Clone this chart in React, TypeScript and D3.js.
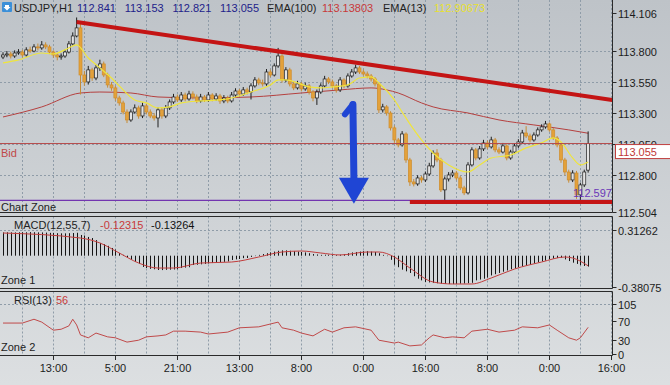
import React, { useEffect, useRef } from 'react';
import * as d3 from 'd3';

// USDJPY H1 candles, oldest first
const opens = [
  113.752, 113.768, 113.776, 113.760, 113.784, 113.792, 113.768, 113.809, 113.800, 113.833,
  113.825, 113.849, 113.833, 113.792, 113.768, 113.752, 113.760, 113.792, 113.857, 113.921,
  113.986, 113.607, 113.551, 113.648, 113.583, 113.664, 113.696, 113.607, 113.527, 113.503,
  113.422, 113.382, 113.309, 113.245, 113.309, 113.342, 113.277, 113.358, 113.309, 113.277,
  113.261, 113.326, 113.277, 113.342, 113.390, 113.430, 113.406, 113.446, 113.414, 113.454,
  113.430, 113.398, 113.430, 113.406, 113.446, 113.414, 113.438, 113.398, 113.422, 113.398,
  113.446, 113.478, 113.454, 113.487, 113.470, 113.519, 113.567, 113.543, 113.535, 113.631,
  113.607, 113.680, 113.760, 113.567, 113.648, 113.535, 113.503, 113.535, 113.495, 113.519,
  113.470, 113.422, 113.470, 113.519, 113.575, 113.551, 113.519, 113.487, 113.567, 113.519,
  113.599, 113.631, 113.664, 113.631, 113.615, 113.599, 113.575, 113.535, 113.326, 113.350,
  113.301, 113.181, 113.084, 113.044, 113.132, 112.923, 112.746, 112.730, 112.778, 112.762,
  112.810, 112.875, 112.979, 112.923, 112.682, 112.770, 112.802, 112.818, 112.778, 112.698,
  112.658, 112.883, 113.004, 112.939, 113.012, 113.060, 113.028, 113.084, 113.004, 112.987,
  113.036, 112.939, 112.987, 113.036, 113.068, 113.140, 113.116, 113.084, 113.124, 113.165,
  113.189, 113.213, 113.165, 113.100, 113.044, 112.923, 112.826, 112.762, 112.818, 112.642,
  112.722, 112.841,
];
const highs = [
  113.790, 113.800, 113.795, 113.805, 113.815, 113.810, 113.830, 113.835, 113.855, 113.860,
  113.880, 113.870, 113.850, 113.805, 113.785, 113.780, 113.810, 113.880, 113.950, 114.070,
  114.020, 113.640, 113.680, 113.665, 113.690, 113.730, 113.715, 113.625, 113.550, 113.520,
  113.440, 113.400, 113.330, 113.330, 113.370, 113.360, 113.385, 113.375, 113.330, 113.300,
  113.345, 113.345, 113.365, 113.410, 113.455, 113.450, 113.470, 113.465, 113.480, 113.475,
  113.450, 113.455, 113.445, 113.470, 113.460, 113.460, 113.455, 113.445, 113.440, 113.470,
  113.500, 113.495, 113.510, 113.505, 113.540, 113.590, 113.585, 113.570, 113.655, 113.650,
  113.700, 113.825, 113.775, 113.670, 113.665, 113.555, 113.560, 113.550, 113.545, 113.535,
  113.485, 113.490, 113.540, 113.600, 113.590, 113.570, 113.535, 113.590, 113.580, 113.620,
  113.655, 113.690, 113.680, 113.650, 113.635, 113.615, 113.590, 113.550, 113.375, 113.365,
  113.315, 113.200, 113.100, 113.155, 113.145, 112.940, 112.770, 112.800, 112.795, 112.830,
  112.900, 113.000, 113.010, 112.940, 112.790, 112.825, 112.840, 112.835, 112.795, 112.715,
  112.905, 113.025, 113.020, 113.035, 113.085, 113.080, 113.110, 113.100, 113.025, 113.060,
  113.050, 113.005, 113.055, 113.090, 113.165, 113.195, 113.135, 113.145, 113.185, 113.210,
  113.237, 113.225, 113.180, 113.115, 113.060, 112.940, 112.845, 112.840, 112.835, 112.740,
  112.845, 113.153,
];
const lows = [
  113.735, 113.750, 113.740, 113.745, 113.770, 113.750, 113.755, 113.785, 113.790, 113.805,
  113.810, 113.815, 113.775, 113.745, 113.725, 113.730, 113.745, 113.780, 113.845, 113.910,
  113.450, 113.520, 113.530, 113.560, 113.565, 113.640, 113.590, 113.505, 113.480, 113.400,
  113.360, 113.290, 113.220, 113.230, 113.295, 113.255, 113.260, 113.290, 113.260, 113.240,
  113.185, 113.255, 113.260, 113.325, 113.375, 113.390, 113.390, 113.395, 113.400, 113.410,
  113.380, 113.385, 113.390, 113.390, 113.395, 113.400, 113.375, 113.380, 113.380, 113.385,
  113.430, 113.435, 113.440, 113.450, 113.410, 113.505, 113.525, 113.515, 113.520, 113.590,
  113.595, 113.665, 113.545, 113.550, 113.515, 113.485, 113.490, 113.475, 113.480, 113.450,
  113.395, 113.366, 113.455, 113.505, 113.535, 113.500, 113.465, 113.470, 113.500, 113.505,
  113.585, 113.615, 113.615, 113.600, 113.580, 113.555, 113.515, 113.300, 113.305, 113.280,
  113.160, 113.060, 113.025, 113.030, 112.900, 112.714, 112.710, 112.715, 112.740, 112.745,
  112.795, 112.860, 112.905, 112.665, 112.600, 112.750, 112.785, 112.760, 112.680, 112.640,
  112.645, 112.870, 112.920, 112.925, 112.995, 113.010, 113.015, 112.985, 112.970, 112.975,
  112.920, 112.925, 112.970, 113.020, 113.055, 113.100, 113.065, 113.070, 113.110, 113.150,
  113.175, 113.150, 113.085, 113.025, 112.900, 112.800, 112.740, 112.745, 112.610, 112.597,
  112.705, 112.821,
];
const closes = [
  113.768, 113.776, 113.760, 113.784, 113.792, 113.768, 113.809, 113.800, 113.833, 113.825,
  113.849, 113.833, 113.792, 113.768, 113.752, 113.760, 113.792, 113.857, 113.921, 113.986,
  113.607, 113.551, 113.648, 113.583, 113.664, 113.696, 113.607, 113.527, 113.503, 113.422,
  113.382, 113.309, 113.245, 113.309, 113.342, 113.277, 113.358, 113.309, 113.277, 113.261,
  113.326, 113.277, 113.342, 113.390, 113.430, 113.406, 113.446, 113.414, 113.454, 113.430,
  113.398, 113.430, 113.406, 113.446, 113.414, 113.438, 113.398, 113.422, 113.398, 113.446,
  113.478, 113.454, 113.487, 113.470, 113.519, 113.567, 113.543, 113.535, 113.631, 113.607,
  113.680, 113.760, 113.567, 113.648, 113.535, 113.503, 113.535, 113.495, 113.519, 113.470,
  113.422, 113.470, 113.519, 113.575, 113.551, 113.519, 113.487, 113.567, 113.519, 113.599,
  113.631, 113.664, 113.631, 113.615, 113.599, 113.575, 113.535, 113.326, 113.350, 113.301,
  113.181, 113.084, 113.044, 113.132, 112.923, 112.746, 112.730, 112.778, 112.762, 112.810,
  112.875, 112.979, 112.923, 112.682, 112.770, 112.802, 112.818, 112.778, 112.698, 112.658,
  112.883, 113.004, 112.939, 113.012, 113.060, 113.028, 113.084, 113.004, 112.987, 113.036,
  112.939, 112.987, 113.036, 113.068, 113.140, 113.116, 113.084, 113.124, 113.165, 113.189,
  113.213, 113.165, 113.100, 113.044, 112.923, 112.826, 112.762, 112.818, 112.642, 112.722,
  112.826, 113.055,
];

// [bar index, value]
const ema13 = [
  [0, 113.704], [4, 113.728], [10, 113.784], [13, 113.776], [16, 113.809], [19, 113.849],
  [22, 113.744], [25, 113.664], [28, 113.583], [30, 113.519], [34, 113.406], [37, 113.382],
  [40, 113.342], [43, 113.35], [46, 113.382], [51, 113.398], [56, 113.406], [60, 113.43],
  [64, 113.47], [69, 113.527], [71, 113.567], [73, 113.567], [76, 113.543], [79, 113.511],
  [82, 113.503], [85, 113.511], [89, 113.527], [92, 113.583], [95, 113.591], [97, 113.543],
  [101, 113.406], [103, 113.309], [105, 113.213], [108, 113.084], [111, 112.979], [115, 112.883],
  [120, 112.826], [123, 112.883], [126, 112.939], [131, 112.963], [135, 113.02], [139, 113.06],
  [142, 113.1], [144, 113.068], [147, 112.939], [149, 112.883], [151, 112.90673],
];
const ema100 = [
  [0, 113.269], [10, 113.35], [20, 113.462], [25, 113.47], [33, 113.462], [40, 113.43],
  [51, 113.422], [64, 113.43], [77, 113.462], [87, 113.487], [95, 113.503], [99, 113.487],
  [102, 113.462], [108, 113.382], [111, 113.35], [120, 113.301], [128, 113.245], [137, 113.205],
  [146, 113.165], [151, 113.13803],
];

const macdHist = [
  0.283, 0.285, 0.284, 0.283, 0.285, 0.286, 0.285, 0.287, 0.286, 0.284,
  0.283, 0.281, 0.278, 0.276, 0.274, 0.272, 0.272, 0.274, 0.276, 0.279,
  0.252, 0.245, 0.228, 0.215, 0.19, 0.155, 0.14, 0.12, 0.094, 0.075,
  0.033, 0.01, -0.02, -0.05, -0.077, -0.1, -0.137, -0.15, -0.16, -0.165,
  -0.174, -0.175, -0.172, -0.17, -0.168, -0.165, -0.15, -0.145, -0.14, -0.113,
  -0.11, -0.105, -0.1, -0.095, -0.089, -0.085, -0.08, -0.075, -0.07, -0.052,
  -0.045, -0.04, -0.03, -0.028, -0.015, -0.005, 0.01, 0.02, 0.03, 0.04,
  0.05, 0.06, 0.065, 0.065, 0.06, 0.055, 0.05, 0.045, 0.04, 0.03,
  0.02, 0.015, 0.01, 0.012, 0.012, 0.01, 0.008, 0.012, 0.02, 0.03,
  0.04, 0.045, 0.05, 0.055, 0.055, 0.05, 0.045, 0.03, 0.01, -0.005,
  -0.05, -0.11, -0.14, -0.17, -0.19, -0.21, -0.25, -0.28, -0.3, -0.32,
  -0.325, -0.33, -0.335, -0.34, -0.343, -0.345, -0.345, -0.343, -0.34, -0.338,
  -0.335, -0.33, -0.3, -0.29, -0.28, -0.265, -0.24, -0.225, -0.21, -0.195,
  -0.18, -0.165, -0.155, -0.14, -0.13, -0.12, -0.11, -0.095, -0.08, -0.07,
  -0.06, -0.045, -0.035, -0.028, -0.025, -0.045, -0.065, -0.085, -0.1, -0.115,
  -0.125, -0.13264,
];
const macdSignal = [
  [0, 0.276], [20, 0.215], [25, 0.155], [30, 0.033], [35, -0.089], [40, -0.15], [44, -0.15],
  [51, -0.089], [59, -0.077], [66, -0.016], [72, 0.045], [77, 0.057], [82, 0.033], [87, 0.009],
  [94, 0.045], [97, 0.045], [101, -0.016], [105, -0.15], [111, -0.32], [116, -0.344],
  [121, -0.344], [126, -0.271], [132, -0.162], [139, -0.077], [145, -0.016], [147, -0.028],
  [151, -0.12315],
];

const rsi = [
  [0, 65], [5, 65], [8, 73], [10, 67], [13, 50], [15, 52], [17, 59], [18, 73], [19, 61],
  [20, 40], [22, 34], [24, 44], [27, 36], [29, 34], [32, 25], [35, 29], [37, 36], [40, 38],
  [42, 40], [44, 48], [47, 48], [51, 46], [53, 42], [58, 46], [61, 55], [66, 57], [69, 63],
  [71, 67], [72, 55], [75, 50], [77, 44], [80, 38], [83, 52], [85, 46], [88, 55], [91, 57],
  [95, 50], [97, 29], [101, 23], [102, 25], [105, 17], [108, 19], [110, 34], [111, 40],
  [114, 34], [116, 36], [119, 34], [121, 48], [125, 52], [128, 46], [132, 50], [134, 57],
  [138, 55], [141, 61], [143, 50], [146, 34], [148, 29], [149, 34], [151, 56],
];

const priceTicks = [114.106, 113.8, 113.55, 113.3, 113.05, 112.8, 112.504];
const macdTicks = [0.31262, -0.38075];
const rsiTicks = [105, 70, 30, 0];
const timeLabels = ['13:00', '5:00', '21:00', '13:00', '8:00', '0:00', '16:00', '8:00', '0:00', '16:00'];

const bid = 113.055;
const lowMark = 112.597;
// drawn objects: [bar index, price]
const trendLine = [[19, 114.033], [157.2, 113.406]];
const supportLine = [[105, 112.585], [157.2, 112.585]];
const arrowBar = 90.3;
const arrowFrom = 113.37;
const arrowTo = 112.57;

const W = 670;
const H = 385;
const R = 612.5;

const App = () => {
  const ref = useRef<SVGSVGElement>(null);

  useEffect(() => {
    const svg = d3.select(ref.current);
    svg.selectAll('*').remove();
    const font = "'Liberation Sans', Arial, sans-serif";

    const defs = svg.append('defs');
    const grad = defs.append('linearGradient').attr('id', 'bg').attr('x1', 0).attr('y1', 0).attr('x2', 0).attr('y2', 1);
    grad.append('stop').attr('offset', '0%').attr('stop-color', '#bec3c8');
    grad.append('stop').attr('offset', '100%').attr('stop-color', '#dcdfe1');
    defs.append('clipPath').attr('id', 'clipMain').append('rect').attr('width', R).attr('height', 212);

    svg.append('rect').attr('width', W).attr('height', H).attr('fill', 'url(#bg)');

    const x = d3.scaleLinear().domain([0, 158]).range([3, 3 + 158 * 3.875]);
    const yP = d3.scaleLinear().domain([112.504, 114.106]).range([212, 13]);
    const yM = d3.scaleLinear().domain([-0.38075, 0.31262]).range([287, 230]);
    const yR = d3.scaleLinear().domain([0, 105]).range([354, 304]);

    const panels = [[0, 212.5], [216.5, 288.5], [291.5, 355.5]];

    // grid
    const grid = svg.append('g').attr('stroke', '#8f9ca8').attr('stroke-dasharray', '2,2').attr('stroke-width', 1);
    const gridBars = d3.range(5, 160, 8).filter((i) => x(i) < R - 1);
    panels.forEach(([t, b]) => {
      gridBars.forEach((i) => {
        grid.append('line').attr('x1', Math.round(x(i)) + 0.5).attr('x2', Math.round(x(i)) + 0.5).attr('y1', t).attr('y2', b);
      });
    });
    priceTicks.slice(1, -1).forEach((v) => {
      const y = Math.round(yP(v)) + 0.5;
      grid.append('line').attr('x1', 0).attr('x2', R).attr('y1', y).attr('y2', y);
    });
    grid.append('line').attr('x1', 0).attr('x2', R).attr('y1', Math.round(yM(macdTicks[0])) + 0.5).attr('y2', Math.round(yM(macdTicks[0])) + 0.5);
    grid.append('line').attr('x1', 0).attr('x2', R).attr('y1', Math.round(yR(rsiTicks[0])) + 0.5).attr('y2', Math.round(yR(rsiTicks[0])) + 0.5);

    // main panel
    const main = svg.append('g').attr('clip-path', 'url(#clipMain)');
    const lineP = d3.line<number[]>().x((d) => x(d[0])).y((d) => yP(d[1])).curve(d3.curveMonotoneX);

    main.append('path').attr('d', lineP(ema100 as any)).attr('fill', 'none').attr('stroke', '#b5403f').attr('stroke-width', 1);

    const candles = closes.map((c, i) => ({ i, o: opens[i], h: highs[i], l: lows[i], c }));
    main.selectAll('.wick').data(candles).enter().append('line')
      .attr('x1', (d) => x(d.i)).attr('x2', (d) => x(d.i))
      .attr('y1', (d) => yP(d.h)).attr('y2', (d) => yP(d.l))
      .attr('stroke', (d) => (d.c >= d.o ? '#1e1e1e' : '#c68b35')).attr('stroke-width', 1);
    main.selectAll('.body').data(candles).enter().append('rect')
      .attr('x', (d) => x(d.i) - 1.5).attr('width', 3)
      .attr('y', (d) => yP(Math.max(d.o, d.c)))
      .attr('height', (d) => Math.max(1, Math.abs(yP(d.o) - yP(d.c))))
      .attr('fill', (d) => (d.c >= d.o ? '#e4e4e4' : '#e3a13a'))
      .attr('stroke', (d) => (d.c >= d.o ? '#1e1e1e' : '#cf8c2c')).attr('stroke-width', 0.7);

    main.append('path').attr('d', lineP(ema13 as any)).attr('fill', 'none').attr('stroke', '#efe53c').attr('stroke-width', 1.2);

    // bid and low lines
    main.append('line').attr('x1', 0).attr('x2', R).attr('y1', yP(bid)).attr('y2', yP(bid)).attr('stroke', '#b54848').attr('stroke-width', 1);
    main.append('line').attr('x1', 0).attr('x2', R).attr('y1', yP(lowMark)).attr('y2', yP(lowMark)).attr('stroke', '#7235b0').attr('stroke-width', 1.2);

    const straight = d3.line<number[]>().x((d) => x(d[0])).y((d) => yP(d[1]));
    [trendLine, supportLine].forEach((ln) => {
      main.append('path').attr('d', straight(ln as any)).attr('stroke', '#c41414').attr('stroke-width', 4).attr('fill', 'none');
    });

    // blue arrow
    const ax = x(arrowBar);
    const aTop = yP(arrowFrom);
    const aTip = yP(arrowTo);
    const blue = '#1f45d4';
    main.append('line').attr('x1', ax).attr('x2', ax + 1).attr('y1', aTop).attr('y2', aTip - 24).attr('stroke', blue).attr('stroke-width', 7).attr('stroke-linecap', 'round');
    main.append('line').attr('x1', ax).attr('x2', ax - 8).attr('y1', aTop).attr('y2', aTop + 10).attr('stroke', blue).attr('stroke-width', 6).attr('stroke-linecap', 'round');
    main.append('path').attr('d', `M${ax - 14},${aTip - 26}L${ax + 16},${aTip - 26}L${ax + 1},${aTip}Z`).attr('fill', blue);

    const txt = (g: any, s: string, tx: number, ty: number, color: string, anchor = 'start') =>
      g.append('text').attr('x', tx).attr('y', ty).attr('fill', color).attr('font-family', font)
        .attr('font-size', 11).attr('text-anchor', anchor).text(s);

    txt(main, 'Bid', 1, 157, '#c04848');
    txt(main, 'Chart Zone', 1, 211, '#222');
    txt(svg, lowMark.toFixed(3), 573, yP(lowMark) - 3, '#6a36b8');

    // header
    const n = closes.length - 1;
    svg.append('rect').attr('x', 2).attr('y', 2).attr('width', 10).attr('height', 10).attr('fill', '#3b8fd8').attr('rx', 1);
    svg.append('path').attr('d', 'M5,5L9,5L9,7L10.5,7L7,10.5L3.5,7L5,7Z').attr('fill', '#fff');
    txt(svg, 'USDJPY,H1', 14, 12, '#222');
    [opens[n], highs[n], lows[n], closes[n]].forEach((v, k) => txt(svg, v.toFixed(3), 77 + k * 47.7, 12, '#22228a'));
    txt(svg, 'EMA(100)', 267, 12, '#222');
    txt(svg, ema100[ema100.length - 1][1].toFixed(5), 322, 12, '#c83a3a');
    txt(svg, 'EMA(13)', 383, 12, '#222');
    txt(svg, ema13[ema13.length - 1][1].toFixed(5), 434, 12, '#e8e030');

    // MACD
    const macd = svg.append('g');
    macd.selectAll('line').data(macdHist).enter().append('line')
      .attr('x1', (d, i) => Math.round(x(i)) + 0.5).attr('x2', (d, i) => Math.round(x(i)) + 0.5)
      .attr('y1', yM(0)).attr('y2', (d) => yM(d)).attr('stroke', '#151515').attr('stroke-width', 1);
    const lineM = d3.line<number[]>().x((d) => x(d[0])).y((d) => yM(d[1])).curve(d3.curveMonotoneX);
    macd.append('path').attr('d', lineM(macdSignal as any)).attr('fill', 'none').attr('stroke', '#c23d3d').attr('stroke-width', 1);
    txt(svg, 'MACD(12,55,7)', 14, 229, '#222');
    txt(svg, macdSignal[macdSignal.length - 1][1].toFixed(5), 100, 229, '#c83a3a');
    txt(svg, macdHist[n].toFixed(5), 151, 229, '#111');
    txt(svg, 'Zone 1', 1, 284, '#222');

    // RSI
    const lineR = d3.line<number[]>().x((d) => x(d[0])).y((d) => yR(d[1]));
    svg.append('path').attr('d', lineR(rsi as any)).attr('fill', 'none').attr('stroke', '#c04a4a').attr('stroke-width', 1);
    txt(svg, 'RSI(13)', 14, 304, '#222');
    txt(svg, String(rsi[rsi.length - 1][1]), 56, 304, '#c83a3a');
    txt(svg, 'Zone 2', 1, 351, '#222');

    // frames
    const frame = svg.append('g').attr('stroke', '#2a2a2a').attr('stroke-width', 1);
    panels.forEach(([t, b], k) => {
      frame.append('line').attr('x1', R).attr('x2', R).attr('y1', t).attr('y2', b);
      frame.append('line').attr('x1', 0).attr('x2', R).attr('y1', b).attr('y2', b);
      if (k > 0) frame.append('line').attr('x1', 0).attr('x2', R).attr('y1', t).attr('y2', t);
    });

    // right axes
    const axisLabels = (vals: number[], sc: any, fmt: (v: number) => string) => {
      vals.forEach((v) => {
        const y = Math.round(sc(v)) + 0.5;
        frame.append('line').attr('x1', R).attr('x2', R + 4).attr('y1', y).attr('y2', y);
        txt(svg, fmt(v), 618, y + 4, '#1c1c1c');
      });
    };
    axisLabels(priceTicks, yP, (v) => v.toFixed(3));
    axisLabels(macdTicks, yM, (v) => v.toFixed(5));
    axisLabels(rsiTicks, yR, (v) => String(v));

    // bid box
    const by = yP(bid);
    svg.append('rect').attr('x', 615.5).attr('y', by + 1).attr('width', 56).attr('height', 14).attr('fill', '#fff').attr('stroke', '#c04040');
    txt(svg, bid.toFixed(3), 618, by + 12.5, '#c03838');

    // time axis
    timeLabels.forEach((s, k) => {
      const tx = Math.round(x(13 + k * 16)) + 0.5;
      frame.append('line').attr('x1', tx).attr('x2', tx).attr('y1', 355.5).attr('y2', 360);
      txt(svg, s, tx, 372, '#1c1c1c', 'middle');
    });
  }, []);

  return <svg ref={ref} width={W} height={H} style={{ position: 'absolute', left: 0, top: 0 }} />;
};

export default App;
